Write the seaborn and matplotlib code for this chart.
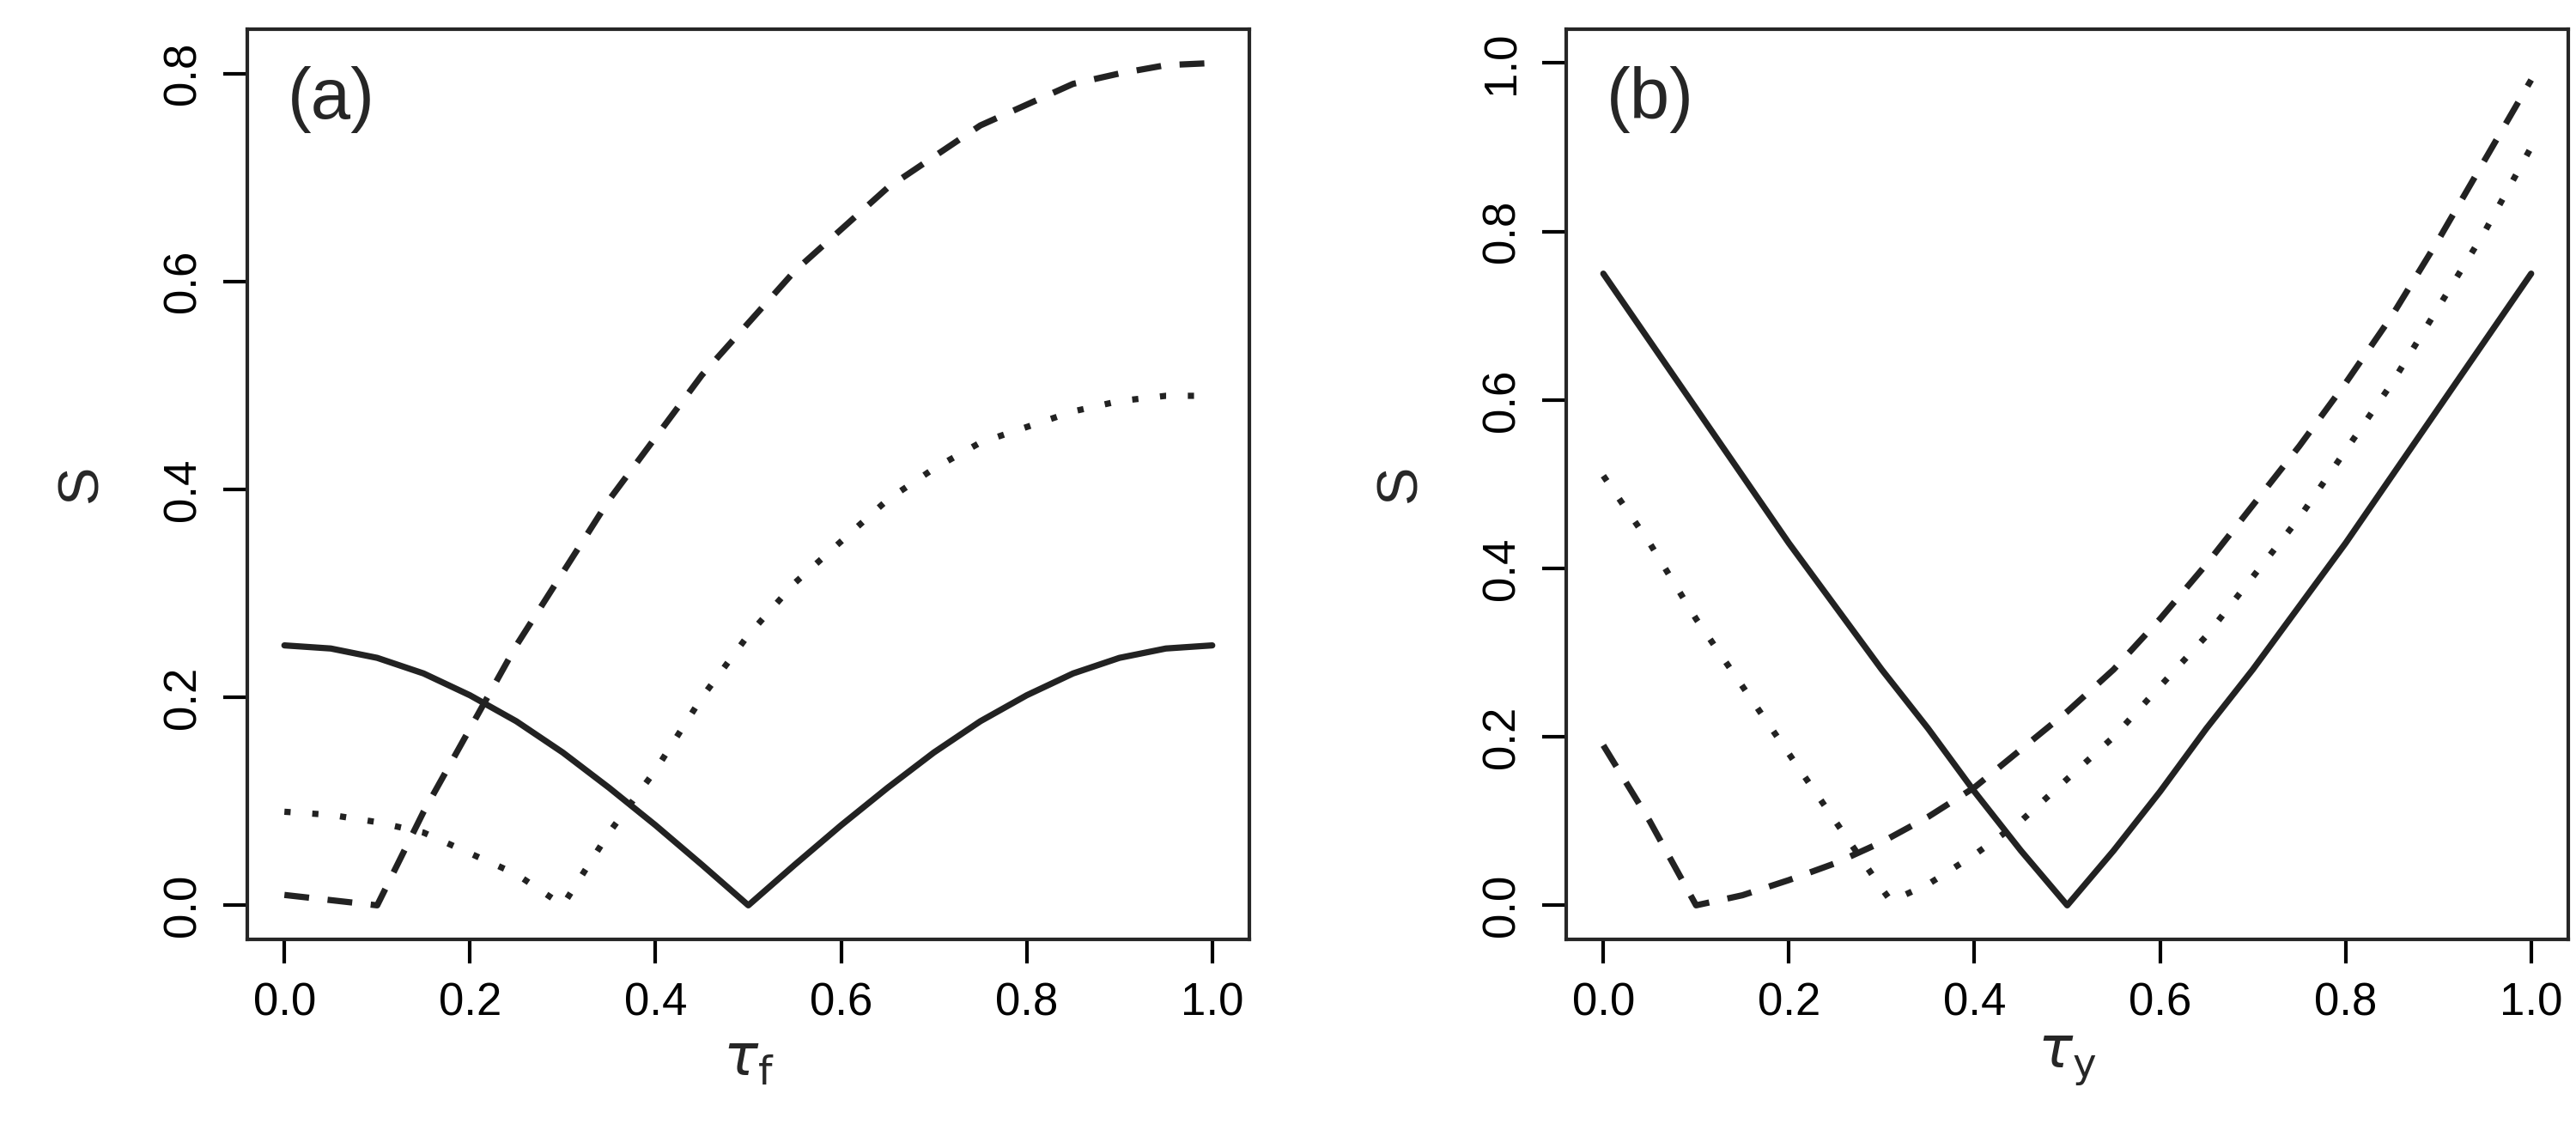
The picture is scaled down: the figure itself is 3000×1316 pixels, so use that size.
import numpy as np
import pandas as pd
import seaborn as sns
import matplotlib
matplotlib.use("Agg")
import matplotlib.pyplot as plt

# panel (a) values
tau_a = [0, .05, .1, .15, .2, .25, .3, .35, .4, .45, .5, .55, .6, .65, .7, .75, .8, .85, .9, .95, 1]
a_solid = [.25, .247, .238, .223, .202, .177, .147, .113, .077, .039, 0,
           .039, .077, .113, .147, .177, .202, .223, .238, .247, .25]
a_dashed = [.01, .005, 0, .09, .17, .25, .32, .39, .45, .51, .56,
            .61, .65, .69, .72, .75, .77, .79, .80, .808, .81]
a_dotted = [.09, .087, .08, .07, .05, .03, 0, .07, .13, .2, .26,
            .31, .35, .39, .42, .445, .46, .475, .485, .49, .49]

# panel (b)
tau_b = tau_a
b_solid = [.75, .67, .59, .51, .43, .355, .28, .21, .135, .065, 0,
           .065, .135, .21, .28, .355, .43, .51, .59, .67, .75]
b_dashed = [.19, .10, 0, .012, .03, .05, .075, .105, .14, .185, .23,
            .28, .34, .405, .475, .545, .62, .70, .79, .885, .98]
tau_b_dot = [0, .05, .1, .15, .2, .25, .3, .31, .35, .4, .45, .5, .55, .6, .65, .7, .75, .8, .85, .9, .95, 1]
b_dotted = [.51, .43, .34, .26, .18, .10, .02, .005, .025, .06, .10, .15,
            .20, .26, .32, .39, .46, .54, .62, .71, .80, .90]

sns.set_style("ticks")
plt.rcParams['font.family'] = ['Liberation Sans', 'DejaVu Sans']

fig = plt.figure(figsize=(15, 6.58), dpi=200)
ax1 = fig.add_axes([0.096, 0.169, 0.389, 0.805])
ax2 = fig.add_axes([0.608, 0.169, 0.389, 0.805])

col = "#222222"
def draw(ax, x, y, ls):
    sns.lineplot(x=x, y=y, ax=ax, color=col, lw=2.6, linestyle=ls)

draw(ax1, tau_a, a_solid, "-")
draw(ax1, tau_a, a_dashed, (0, (4, 3)))
draw(ax1, tau_a, a_dotted, (0, (1, 3.5)))
draw(ax2, tau_b, b_solid, "-")
draw(ax2, tau_b, b_dashed, (0, (4, 3)))
draw(ax2, tau_b_dot, b_dotted, (0, (1, 3.5)))

for ax, ymax, yt, lab, xl in [(ax1, 0.81, [0, .2, .4, .6, .8], "(a)", r"$\tau_{\mathrm{f}}$"),
                              (ax2, 1.0, [0, .2, .4, .6, .8, 1.0], "(b)", r"$\tau_{\mathrm{y}}$")]:
    pad = ymax * 0.04
    ax.set_xlim(-0.04, 1.04)
    ax.set_ylim(-pad, ymax + pad)
    ax.set_xticks([0, .2, .4, .6, .8, 1.0])
    ax.set_xticklabels(["0.0", "0.2", "0.4", "0.6", "0.8", "1.0"])
    ax.set_yticks(yt)
    ax.set_yticklabels([f"{v:.1f}" for v in yt], rotation=90, va="center")
    ax.tick_params(labelsize=19, length=10, width=1.5, pad=8, colors="black")
    for s in ax.spines.values():
        s.set_visible(True)
        s.set_linewidth(1.5)
    ax.set_xlabel(xl, fontsize=24, labelpad=4)
    ax.set_ylabel("S", fontsize=24, labelpad=22)
    ax.text(0.04, 0.96, lab, transform=ax.transAxes, fontsize=30, va="top", ha="left")

fig.savefig("out.png", dpi=200)
